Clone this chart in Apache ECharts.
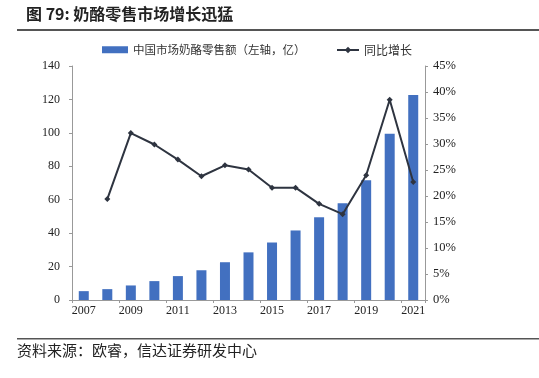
<!DOCTYPE html>
<html>
<head>
<meta charset="utf-8">
<script src="https://cdn.jsdelivr.net/npm/echarts@6/dist/echarts.min.js"></script>
<style>
  html, body { margin: 0; padding: 0; background: #fff; }
  #chart { width: 539px; height: 378px; }
</style>
</head>
<body>
<div id="chart"></div>
<script>
// 年份
var years = ['2007', '2008', '2009', '2010', '2011', '2012', '2013', '2014',
  '2015', '2016', '2017', '2018', '2019', '2020', '2021'];
// 中国市场奶酪零售额（亿）
var sales = [5.3, 6.5, 8.7, 11.3, 14.3, 17.8, 22.6, 28.5, 34.4, 41.6, 49.5, 57.9, 71.7, 99.4, 122.6];
// 同比增长（%）
var growth = [null, 19.4, 32.1, 29.9, 27.0, 23.8, 25.9, 25.1, 21.6, 21.6, 18.5, 16.5, 24.0, 38.5, 22.7];

var barName = '中国市场奶酪零售额（左轴，亿）';
var lineName = '同比增长';
var serif = '"Liberation Serif", "DejaVu Serif", serif';
var cjk = '"Noto Sans CJK SC", sans-serif';

var myChart = echarts.init(document.getElementById('chart'));
var option = {
  backgroundColor: '#fff',
  animation: false,
  graphic: [
    { type: 'text', left: 26, top: 6,
      style: { text: '图 79: 奶酪零售市场增长迅猛', font: 'bold 16px ' + cjk, fill: '#222' } },
    { type: 'rect', shape: { x: 17, y: 29, width: 522, height: 2 }, style: { fill: '#555' } },
    { type: 'rect', shape: { x: 17, y: 338, width: 522, height: 1.5 }, style: { fill: '#555' } },
    { type: 'text', left: 17, top: 343,
      style: { text: '资料来源：欧睿，信达证券研发中心', font: '15px ' + cjk, fill: '#222' } }
  ],
  legend: [{
    left: 97, top: 39,
    itemWidth: 26, itemHeight: 7,
    textStyle: { fontFamily: cjk, fontSize: 11.5, color: '#333' },
    data: [{ name: barName, icon: 'rect' }]
  }, {
    left: 331, top: 39,
    itemWidth: 22, itemHeight: 8,
    textStyle: { fontFamily: cjk, fontSize: 12, color: '#333' },
    data: [lineName]
  }],
  grid: { left: 72, right: 114, top: 66, bottom: 78 },
  xAxis: {
    type: 'category',
    data: years,
    axisLine: { lineStyle: { color: '#999' } },
    axisTick: { show: true, length: 3, lineStyle: { color: '#999' } },
    axisLabel: { interval: 1, color: '#222', fontFamily: serif, fontSize: 12, margin: 5 }
  },
  yAxis: [{
    type: 'value', min: 0, max: 140, interval: 20,
    axisLine: { show: true, lineStyle: { color: '#999' } },
    axisTick: { show: true, length: 3, lineStyle: { color: '#999' } },
    splitLine: { show: false },
    axisLabel: { color: '#222', fontFamily: serif, fontSize: 12, margin: 12 }
  }, {
    type: 'value', min: 0, max: 45, interval: 5,
    axisLine: { show: true, lineStyle: { color: '#999' } },
    axisTick: { show: true, length: 3, lineStyle: { color: '#999' } },
    splitLine: { show: false },
    axisLabel: { color: '#222', fontFamily: serif, fontSize: 12.5, margin: 8, formatter: '{value}%' }
  }],
  series: [{
    name: barName,
    type: 'bar',
    data: sales,
    barWidth: 10,
    itemStyle: { color: '#4270C0' }
  }, {
    name: lineName,
    type: 'line',
    yAxisIndex: 1,
    data: growth,
    symbol: 'diamond',
    symbolSize: 6,
    lineStyle: { color: '#2E3440', width: 2 },
    itemStyle: { color: '#2E3440' }
  }]
};
myChart.setOption(option);
</script>
</body>
</html>
